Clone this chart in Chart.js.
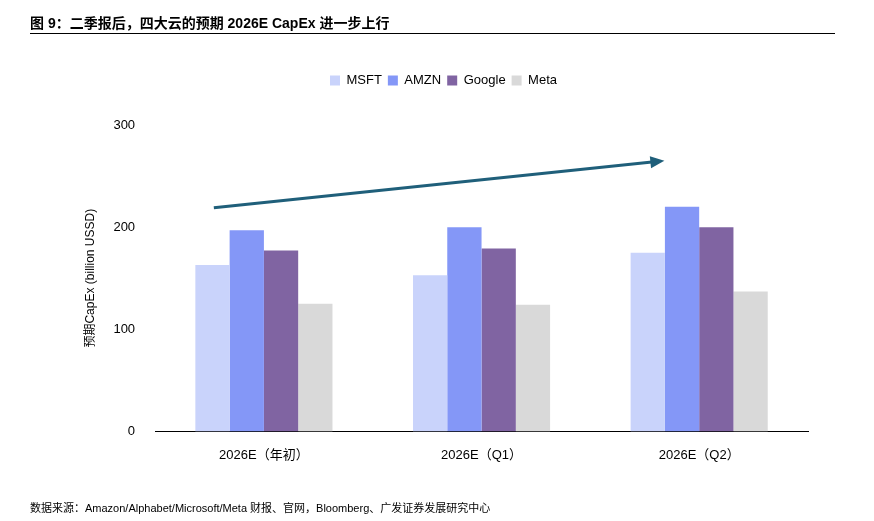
<!DOCTYPE html>
<html><head><meta charset="utf-8">
<script src="https://cdn.jsdelivr.net/npm/chart.js@4"></script>
<style>
body{margin:0;background:#fff;font-family:"Liberation Sans","Noto Sans CJK SC",sans-serif;}
#wrap{position:relative;width:874px;height:521px;}
#title{position:absolute;left:30px;top:12px;font-size:14px;font-weight:bold;color:#000;}
#rule{position:absolute;left:30px;top:33px;width:805px;border-top:1px solid #000;}
#src{position:absolute;left:30px;top:499px;font-size:11px;color:#000;}
canvas{position:absolute;left:0;top:0;}
</style></head><body>
<div id="wrap">
<canvas id="myChart" width="874" height="521"></canvas>
<div id="title">图 9：二季报后，四大云的预期 2026E CapEx 进一步上行</div>
<div id="rule"></div>
<div id="src">数据来源：Amazon/Alphabet/Microsoft/Meta 财报、官网，Bloomberg、广发证券发展研究中心</div>
</div>
<script>
const labels = ['2026E（年初）', '2026E（Q1）', '2026E（Q2）'];
const msft = [163, 153, 175];
const amzn = [197, 200, 220];
const google = [177, 179, 200];
const meta = [125, 124, 137];
// trend arrow in data units: [category index, value]
const arrowFrom = [-0.23, 219];
const arrowTo = [1.84, 265];

function catPixel(scale, v) {
  const a = scale.getPixelForValue(0), b = scale.getPixelForValue(1);
  return a + (b - a) * v;
}

const arrowPlugin = {
  id: 'arrow',
  afterDatasetsDraw(chart) {
    const {ctx, scales: {x, y}} = chart;
    const x1 = catPixel(x, arrowFrom[0]), y1 = y.getPixelForValue(arrowFrom[1]);
    const x2 = catPixel(x, arrowTo[0]), y2 = y.getPixelForValue(arrowTo[1]);
    const ang = Math.atan2(y2 - y1, x2 - x1);
    ctx.save();
    ctx.strokeStyle = '#1f5f7a';
    ctx.fillStyle = '#1f5f7a';
    ctx.lineWidth = 3;
    ctx.beginPath();
    ctx.moveTo(x1, y1);
    ctx.lineTo(x2 - 10 * Math.cos(ang), y2 - 10 * Math.sin(ang));
    ctx.stroke();
    ctx.beginPath();
    ctx.moveTo(x2, y2);
    ctx.lineTo(x2 - 14 * Math.cos(ang) + 6 * Math.sin(ang), y2 - 14 * Math.sin(ang) - 6 * Math.cos(ang));
    ctx.lineTo(x2 - 14 * Math.cos(ang) - 6 * Math.sin(ang), y2 - 14 * Math.sin(ang) + 6 * Math.cos(ang));
    ctx.closePath();
    ctx.fill();
    ctx.restore();
  }
};

const legendGap = {
  id: 'legendGap',
  beforeInit(chart) {
    const fit = chart.legend.fit;
    chart.legend.fit = function () { fit.bind(chart.legend)(); this.height += 28; };
  }
};

const mk = (label, data, color) => ({label, data, backgroundColor: color, barPercentage: 1, categoryPercentage: 0.63});

new Chart(document.getElementById('myChart'), {
  type: 'bar',
  data: {
    labels: labels,
    datasets: [
      mk('MSFT', msft, '#c9d3fb'),
      mk('AMZN', amzn, '#8497f7'),
      mk('Google', google, '#8064a2'),
      mk('Meta', meta, '#d9d9d9')
    ]
  },
  options: {
    responsive: false,
    animation: false,
    layout: {padding: {top: 68, left: 79, right: 66, bottom: 50}},
    plugins: {
      legend: {
        labels: {boxWidth: 10, boxHeight: 10, padding: 6, color: '#000', font: {size: 13, family: 'Liberation Sans'}}
      },
      tooltip: {enabled: false}
    },
    scales: {
      x: {
        grid: {display: false, drawTicks: true},
        border: {color: '#000'},
        ticks: {color: '#000', font: {size: 13, family: 'Liberation Sans, Noto Sans CJK SC'}, padding: 8}
      },
      y: {
        min: 0, max: 300,
        grid: {display: false},
        border: {display: false},
        ticks: {stepSize: 100, color: '#000', font: {size: 13, family: 'Liberation Sans'}, padding: 12},
        title: {display: true, text: '预期CapEx (billion USSD)', color: '#000', font: {size: 12, family: 'Liberation Sans, Noto Sans CJK SC'}}
      }
    }
  },
  plugins: [arrowPlugin, legendGap]
});
</script>
</body></html>
